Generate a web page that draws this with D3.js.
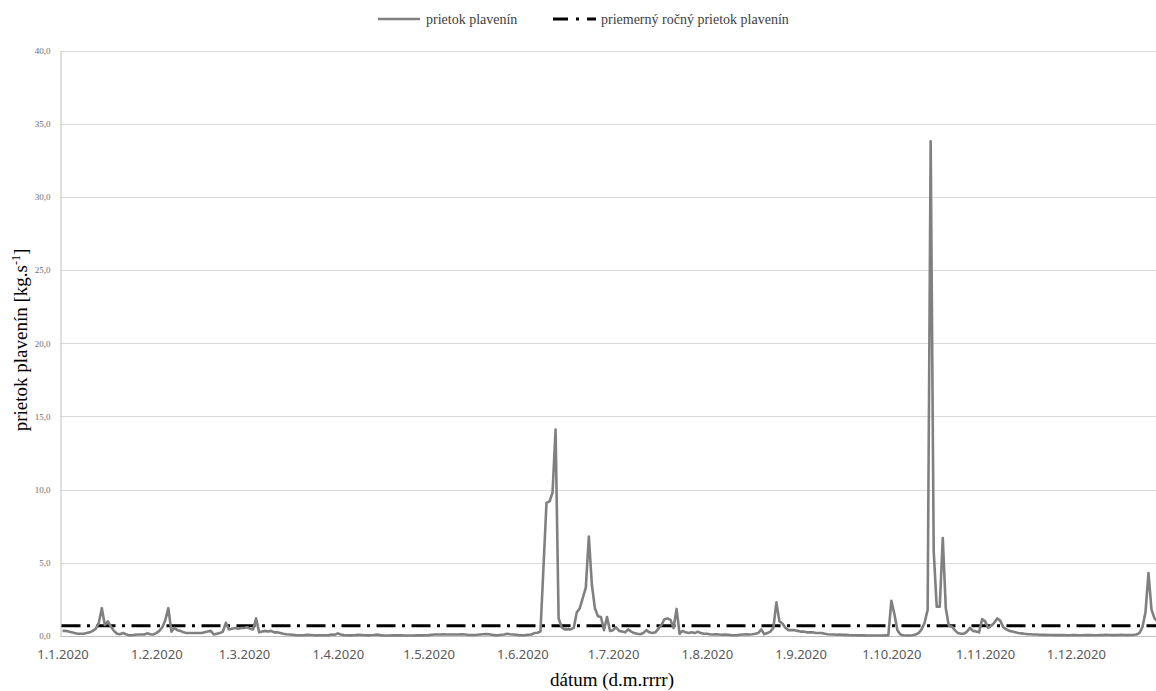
<!DOCTYPE html>
<html>
<head>
<meta charset="utf-8">
<script src="https://cdn.jsdelivr.net/npm/d3@7"></script>
<style>
  html, body { margin: 0; padding: 0; background: #fff; }
  svg { display: block; }
</style>
</head>
<body>
<svg id="chart" width="1156" height="691"></svg>
<script>
// ---- data (daily sediment discharge, kg/s, year 2020) ----
const jan = [0.35,0.35,0.3,0.25,0.2,0.15,0.15,0.15,0.2,0.25,0.35,0.5,0.9,1.9,0.75,1.0,0.65,0.35,0.15,0.12,0.2,0.12,0.05,0.05,0.08,0.1,0.1,0.1,0.18,0.12,0.1];
const feb = [0.2,0.35,0.6,1.1,1.9,0.3,0.55,0.4,0.35,0.25,0.2,0.2,0.2,0.2,0.2,0.2,0.25,0.3,0.35,0.1,0.15,0.2,0.3,0.9,0.45,0.5,0.55,0.5,0.55];
const mar = [0.55,0.6,0.5,0.45,1.2,0.25,0.3,0.35,0.3,0.35,0.25,0.25,0.2,0.15,0.12,0.1,0.08,0.06,0.05,0.05,0.06,0.08,0.07,0.05,0.04,0.05,0.05,0.05,0.06,0.1,0.08];
const apr = [0.18,0.1,0.06,0.05,0.04,0.05,0.06,0.08,0.07,0.05,0.04,0.05,0.07,0.1,0.06,0.04,0.03,0.03,0.04,0.04,0.05,0.04,0.03,0.03,0.03,0.03,0.04,0.04,0.04,0.05];
const may = [0.06,0.08,0.1,0.1,0.1,0.12,0.1,0.1,0.1,0.1,0.1,0.12,0.1,0.08,0.07,0.07,0.08,0.1,0.12,0.14,0.12,0.08,0.06,0.05,0.08,0.1,0.15,0.12,0.1,0.08,0.06];
const jun = [0.05,0.06,0.08,0.1,0.2,0.22,0.3,4.7,9.1,9.2,9.8,14.1,1.2,0.6,0.45,0.45,0.45,0.55,1.6,1.9,2.6,3.3,6.8,3.5,1.9,1.35,1.3,0.4,1.3,0.35];
const jul = [0.4,0.6,0.35,0.3,0.25,0.45,0.3,0.2,0.15,0.12,0.2,0.4,0.25,0.2,0.25,0.5,0.75,1.15,1.2,1.1,0.55,1.85,0.15,0.35,0.25,0.2,0.25,0.2,0.3,0.2,0.15];
const aug = [0.15,0.12,0.1,0.12,0.1,0.08,0.1,0.08,0.06,0.05,0.06,0.08,0.1,0.12,0.1,0.12,0.15,0.2,0.45,0.12,0.2,0.3,0.55,2.3,1.0,0.85,0.55,0.4,0.4,0.4,0.35];
const sep = [0.3,0.3,0.25,0.25,0.25,0.2,0.2,0.2,0.15,0.12,0.1,0.1,0.08,0.1,0.08,0.08,0.06,0.05,0.05,0.04,0.05,0.04,0.03,0.03,0.03,0.03,0.03,0.03,0.04,0.05];
const oct = [2.4,1.5,0.4,0.1,0.05,0.03,0.03,0.05,0.1,0.2,0.45,0.9,1.8,33.8,5.8,2.0,2.0,6.7,1.9,0.7,0.65,0.4,0.2,0.15,0.15,0.3,0.55,0.35,0.3,0.25,1.15];
const nov = [1.0,0.55,0.7,0.9,1.2,1.05,0.6,0.45,0.35,0.3,0.25,0.2,0.18,0.15,0.13,0.12,0.1,0.1,0.09,0.08,0.08,0.07,0.07,0.06,0.06,0.07,0.06,0.05,0.05,0.06];
const dec = [0.06,0.05,0.05,0.06,0.07,0.06,0.05,0.05,0.06,0.07,0.08,0.07,0.06,0.06,0.07,0.08,0.07,0.06,0.07,0.08,0.1,0.2,0.6,1.6,4.3,1.8,1.2,1.0,0.9,0.85,0.8];

const meanAnnual = [0.7];                 // priemerný ročný prietok plavenín
const yTicks = [0,5,10,15,20,25,30,35,40];
const xTickLabels = ["1.1.2020","1.2.2020","1.3.2020","1.4.2020","1.5.2020","1.6.2020","1.7.2020","1.8.2020","1.9.2020","1.10.2020","1.11.2020","1.12.2020"];
const seriesNames = ["prietok plavenín", "priemerný ročný prietok plavenín"];

// ---- build table ----
const months = [jan,feb,mar,apr,may,jun,jul,aug,sep,oct,nov,dec];
const data = [];
months.forEach((arr, m) => arr.forEach((v, i) => data.push({date: new Date(2020, m, i + 1), v})));
const tickDates = xTickLabels.map(s => { const p = s.split("."); return new Date(+p[2], +p[1] - 1, +p[0]); });

// ---- layout ----
const svg = d3.select("#chart");
const W = 1156, H = 691;
const plotLeft = 60.5, plotTop = 50.5, plotBottom = 636;
const x = d3.scaleTime()
  .domain([new Date(2020,0,1), new Date(2020,11,31)])
  .range([62.5, 62.5 + 365 * 3.025]);
const y = d3.scaleLinear().domain([0, 40]).range([plotBottom, plotTop]);

svg.append("rect").attr("width", W).attr("height", H).attr("fill", "#fff");

// gridlines
svg.append("g").selectAll("line").data(yTicks.filter(t => t > 0)).join("line")
  .attr("x1", plotLeft).attr("x2", W)
  .attr("y1", d => Math.round(y(d)) + 0.5).attr("y2", d => Math.round(y(d)) + 0.5)
  .attr("stroke", "#d9d9d9").attr("stroke-width", 1);

// y axis
const yAxis = d3.axisLeft(y).tickValues(yTicks).tickSize(0).tickPadding(10)
  .tickFormat(d => d3.format(".1f")(d).replace(".", ","));
const gy = svg.append("g").attr("transform", `translate(${plotLeft},0)`).call(yAxis);
gy.select(".domain").attr("stroke", "#bfbfbf");
gy.selectAll("text").attr("font-family", "'Liberation Serif', 'Times New Roman', serif")
  .attr("font-size", 9).attr("fill", "#6b6b6b");

// x axis
const xAxis = d3.axisBottom(x).tickValues(tickDates).tickSize(0).tickPadding(14)
  .tickFormat((d, i) => xTickLabels[i]);
const gx = svg.append("g").attr("transform", `translate(0,${plotBottom})`).call(xAxis);
gx.select(".domain").attr("stroke", "#bfbfbf").attr("d", `M${plotLeft},0.5H${W}`);
gx.selectAll("text").attr("font-family", "'Noto Sans', 'Open Sans', sans-serif")
  .attr("font-size", 13).attr("fill", "#595959");

// mean annual line
svg.append("line")
  .attr("x1", plotLeft + 1).attr("x2", W)
  .attr("y1", y(meanAnnual[0])).attr("y2", y(meanAnnual[0]))
  .attr("stroke", "#000").attr("stroke-width", 3)
  .attr("stroke-dasharray", "19,6.5,3,6.5");

// series line
const line = d3.line().x(d => x(d.date)).y(d => y(d.v));
svg.append("path").datum(data)
  .attr("d", line).attr("fill", "none")
  .attr("stroke", "#808080").attr("stroke-width", 2.6)
  .attr("stroke-linejoin", "round");

// legend
const lg = svg.append("g").attr("font-family", "'Liberation Serif', 'Times New Roman', serif")
  .attr("font-size", 14).attr("fill", "#404040");
lg.append("line").attr("x1", 378).attr("x2", 420).attr("y1", 19).attr("y2", 19)
  .attr("stroke", "#808080").attr("stroke-width", 2.6);
lg.append("text").attr("x", 426).attr("y", 23.5).text(seriesNames[0]);
lg.append("line").attr("x1", 553).attr("x2", 596).attr("y1", 19).attr("y2", 19)
  .attr("stroke", "#000").attr("stroke-width", 3).attr("stroke-dasharray", "15,8,3,8");
lg.append("text").attr("x", 601).attr("y", 23.5).text(seriesNames[1]);

// axis titles
const yt = svg.append("text")
  .attr("transform", "translate(27,340) rotate(-90)")
  .attr("text-anchor", "middle")
  .attr("font-family", "'Liberation Serif', 'Times New Roman', serif")
  .attr("font-size", 19).attr("fill", "#000");
yt.append("tspan").text("prietok plavenín [kg.s");
yt.append("tspan").attr("font-size", 12).attr("dy", -7).text("-1");
yt.append("tspan").attr("dy", 7).text("]");

svg.append("text").attr("x", 612).attr("y", 686).attr("text-anchor", "middle")
  .attr("font-family", "'Liberation Serif', 'Times New Roman', serif")
  .attr("font-size", 19).attr("fill", "#000").text("dátum (d.m.rrrr)");
</script>
</body>
</html>
